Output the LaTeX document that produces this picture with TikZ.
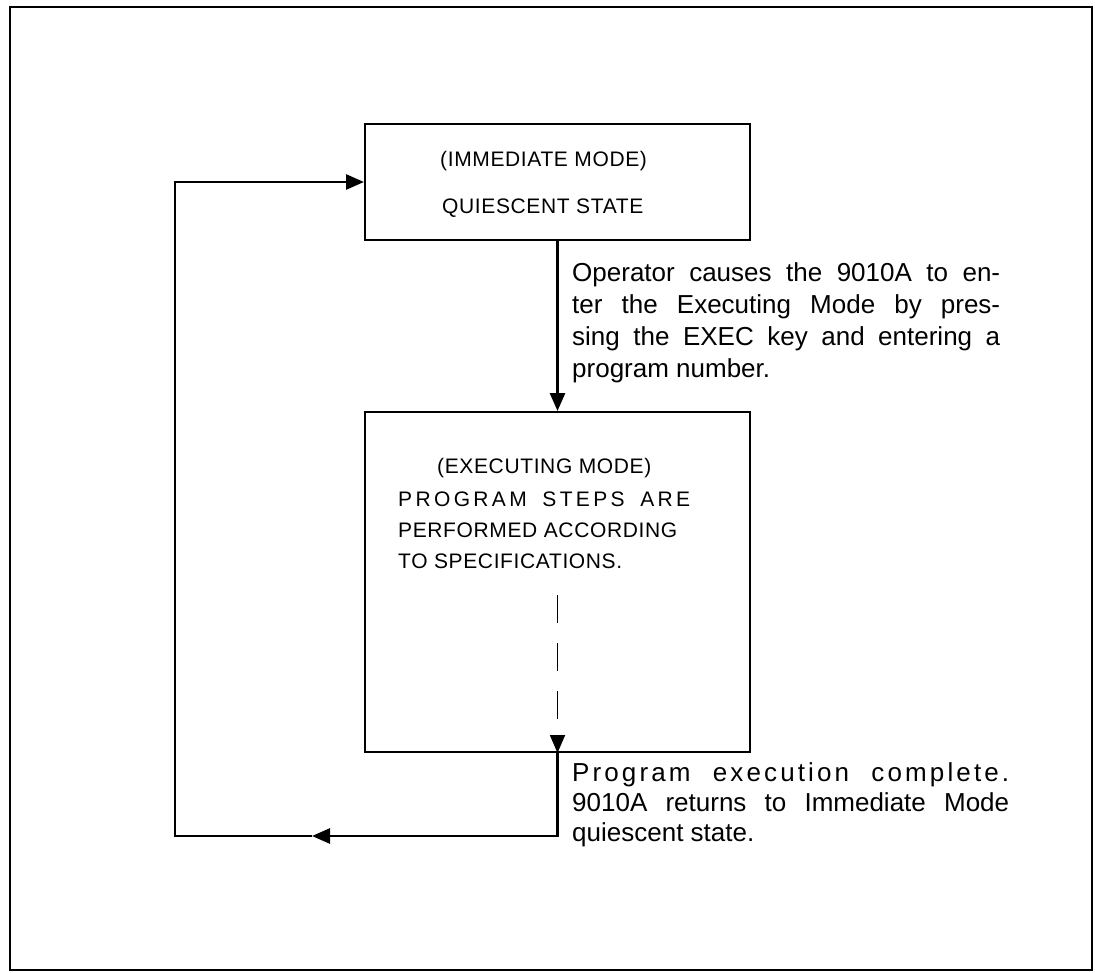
\documentclass[tikz,border=0pt]{standalone}
\usepackage{fontspec}
\setmainfont{Liberation Sans}
\usetikzlibrary{arrows.meta}

\begin{document}
\begin{tikzpicture}[x=1pt,y=-1pt,
    state/.style={draw, line width=2pt, minimum width=385pt, inner sep=0pt},
    flow/.style={line width=2.8pt, -{Triangle[length=18pt,width=15pt]}},
    caps/.style={anchor=base west, inner sep=0pt, font=\fontsize{21}{25}\selectfont\addfontfeature{LetterSpace=3}},
    note/.style={anchor=base west, inner sep=0pt, font=\fontsize{26}{32}\selectfont}]
  % page and frame
  \useasboundingbox (0,0) rectangle (1095,972);
  \draw[line width=1.5pt] (10,7) rectangle (1092,970);
  % the two states
  \node[name=immediate, state, minimum height=116pt] at (557.5,182) {};
  \node[name=executing, state, minimum height=340pt] at (557.5,582) {};
  \node[name=immtitle, caps] at (440,166) {(IMMEDIATE MODE)};
  \node[name=immstate, caps] at (442,213) {QUIESCENT STATE};
  \node[name=exectitle, caps] at (437,473) {(EXECUTING MODE)};
  \node[name=steps1, caps, font=\fontsize{21}{25}\selectfont\addfontfeature{LetterSpace=16}] at (398,506) {\makebox[292pt][s]{PROGRAM STEPS ARE}};
  \node[name=steps2, caps] at (398,537) {PERFORMED ACCORDING};
  \node[name=steps3, caps] at (398,568) {TO SPECIFICATIONS.};
  % notes beside the arrows
  \node[name=enter1, note] at (572,281) {\makebox[428pt][s]{Operator causes the 9010A to en-}};
  \node[name=enter2, note] at (572,313) {\makebox[428pt][s]{ter the Executing Mode by pres-}};
  \node[name=enter3, note] at (572,345) {\makebox[428pt][s]{sing the EXEC key and entering a}};
  \node[name=enter4, note] at (572,377) {program number.};
  \node[name=done1, note, font=\fontsize{26}{32}\selectfont\addfontfeature{LetterSpace=12}] at (572,781) {\makebox[437pt][s]{Program execution complete.}};
  \node[name=done2, note] at (572,811) {\makebox[437pt][s]{9010A returns to Immediate Mode}};
  \node[name=done3, note] at (572,841) {quiescent state.};
  % connectors
  \coordinate (dashtop) at (557.5,595);
  \coordinate (midback) at (312,836);
  \coordinate (backcorner) at (175,836);
  \draw[flow] (immediate.south) -- (executing.north);
  \draw[flow, line width=1.8pt, dash pattern=on 28pt off 20pt] (dashtop) -- (executing.south);
  \draw[flow] (executing.south) |- (midback);
  \draw[flow] (midback) -- (backcorner) |- (immediate.west);
\end{tikzpicture}
\end{document}
